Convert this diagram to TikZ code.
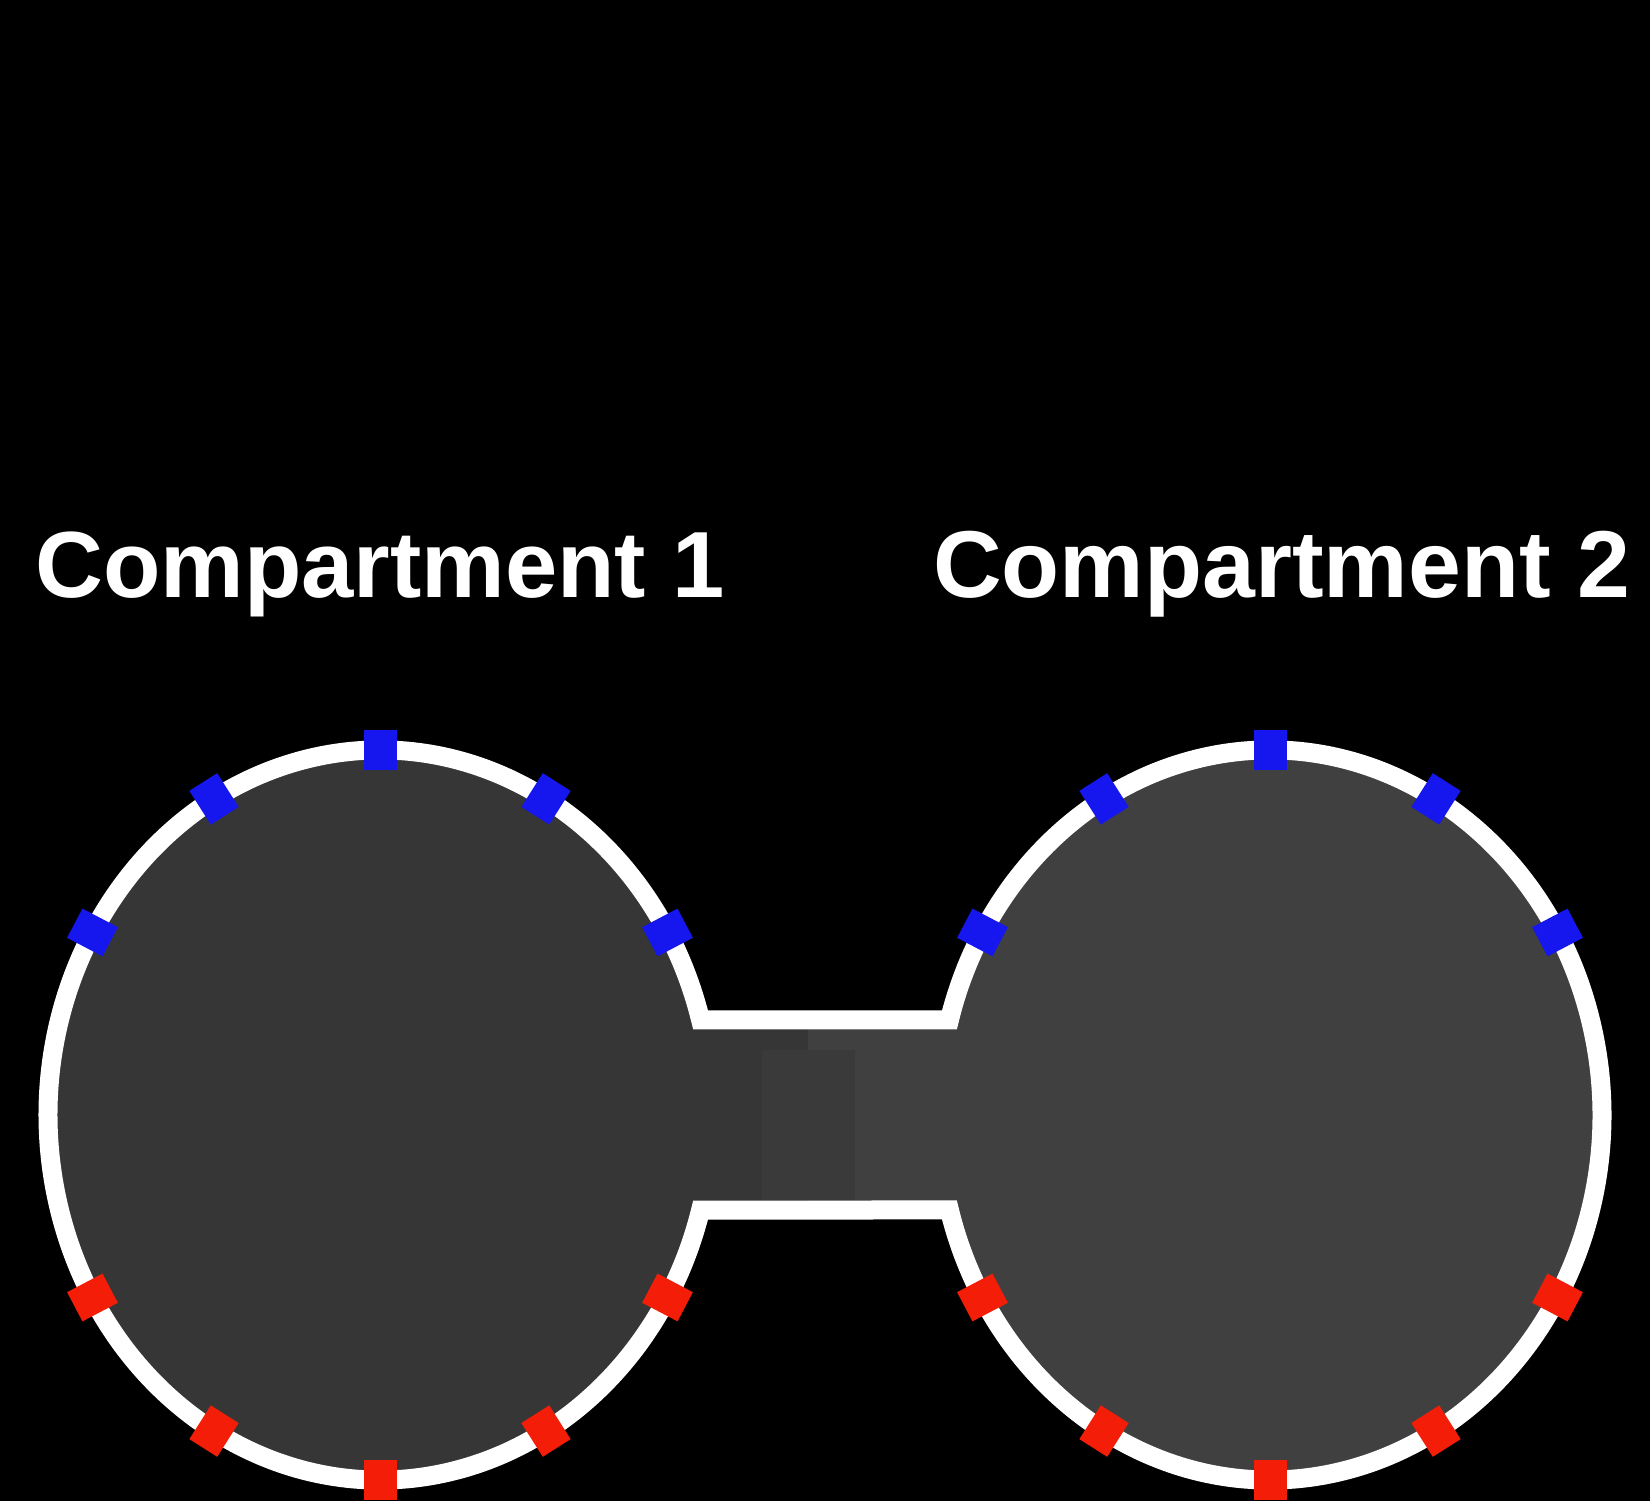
\documentclass[tikz,border=0pt]{standalone}
\usepackage{fontspec}
\setmainfont{Liberation Sans}
\definecolor{cellleft}{HTML}{363636}
\definecolor{cellright}{HTML}{404040}
\definecolor{cellmid}{HTML}{3A3A3A}
\definecolor{portblue}{RGB}{22,22,238}
\definecolor{portred}{RGB}{244,30,8}
\tikzset{
  wall/.style={draw=white, line width=19pt, line join=miter},
  port/.style={rectangle, inner sep=0pt, minimum width=33pt, minimum height=40pt},
  title/.style={text=white, inner sep=0pt, anchor=base west,
    font=\fontsize{94}{100}\selectfont\bfseries},
}
\begin{document}
\begin{tikzpicture}[x=1pt,y=1pt]
  % background and fixed frame
  \fill[black] (0,0) rectangle (1650,1501);
  \useasboundingbox (0,0) rectangle (1650,1501);

  % titles
  \node[title] (t1) at (35,903) {Compartment 1};
  \node[title] (t2) at (933,903) {\fontsize{95}{100}\selectfont Compartment 2};

  % interiors of the two compartments and the connecting channel
  \fill[cellleft]  (380,386) ellipse [x radius=332, y radius=365];
  \fill[cellright] (1270,386) ellipse [x radius=332, y radius=365];
  \fill[cellleft]  (690,291) rectangle (808,481);
  \fill[cellright] (808,291) rectangle (960,481);
  \fill[cellmid]   (762,301) rectangle (855,451);

  % membrane outline
  \draw[wall] (700.6,481)
    arc[start angle=15.09, end angle=344.91, x radius=332, y radius=365]
    -- (949.4,291)
    arc[start angle=195.09, end angle=524.91, x radius=332, y radius=365]
    -- cycle;

  % channels on the membranes: blue on the upper halves, red on the lower halves
  \foreach \c/\cx in {L/380, R/1270}{
    \foreach \t in {30,60,90,120,150}{
      \pgfmathsetmacro\rot{atan2(332*sin(\t),365*cos(\t))-90}
      \node[port, fill=portblue, rotate=\rot] (b\c\t)
        at ({\cx+332*cos(\t)},{386+365*sin(\t)}) {};
    }
    \foreach \t in {210,240,270,300,330}{
      \pgfmathsetmacro\rot{atan2(332*sin(\t),365*cos(\t))-90}
      \node[port, fill=portred, rotate=\rot] (r\c\t)
        at ({\cx+332*cos(\t)},{386+365*sin(\t)}) {};
    }
  }
\end{tikzpicture}
\end{document}
